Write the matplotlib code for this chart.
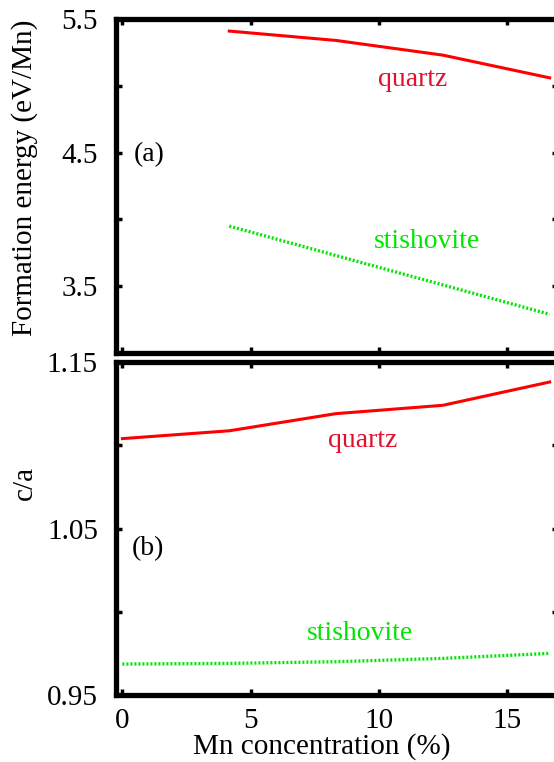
import matplotlib
matplotlib.use("Agg")
import matplotlib.pyplot as plt

# Mn concentration (%)
conc_energy = [4.17, 8.33, 12.5, 16.67]
conc_ratio = [0.0, 4.17, 8.33, 12.5, 16.67]

# formation energy (eV/Mn)
quartz_energy = [5.41, 5.34, 5.23, 5.06]
stishovite_energy = [3.95, 3.73, 3.51, 3.29]

# c/a ratio
quartz_ratio = [1.104, 1.1087, 1.119, 1.124, 1.138]
stishovite_ratio = [0.9686, 0.969, 0.970, 0.972, 0.975]

x_ticks = [0, 5, 10, 15]
energy_ticks = [3.0, 3.5, 4.0, 4.5, 5.0, 5.5]
energy_labels = ["", "3.5", "", "4.5", "", "5.5"]
ratio_ticks = [0.95, 1.00, 1.05, 1.10, 1.15]
ratio_labels = ["0.95", "", "1.05", "", "1.15"]

plt.rcParams['font.family'] = ['Liberation Serif', 'DejaVu Serif']
FS = 21      # tick and axis labels
FS_ANN = 20  # curve names and panel tags
RED = '#ff0000'
GREEN = '#00e600'


def style_axes(ax):
    for sp in ax.spines.values():
        sp.set_linewidth(3.8)
    ax.tick_params(direction='in', length=4, width=2.5, top=True, right=True,
                   labelsize=FS)
    ax.tick_params(axis='y', pad=13)
    ax.tick_params(axis='x', pad=9)
    ax.set_xlim(-0.25, 17.0)
    ax.set_xticks(x_ticks)


fig = plt.figure(figsize=(5.54, 7.62), dpi=100)
ax1 = fig.add_axes([0.2094, 0.5367, 0.798, 0.4383])
ax2 = fig.add_axes([0.2094, 0.0879, 0.798, 0.437])

# (a) formation energy
style_axes(ax1)
ax1.plot(conc_energy, quartz_energy, color=RED, lw=2.2)
ax1.plot(conc_energy, stishovite_energy, color=GREEN, lw=2.4, linestyle=(0, (0.6, 0.6)))
ax1.set_ylim(3.0, 5.5)
ax1.set_yticks(energy_ticks)
ax1.set_yticklabels(energy_labels)
ax1.set_xticklabels([])
ax1.text(11.32, 5.045, "quartz", color='#e0102e', fontsize=FS_ANN, ha='center', va='center')
ax1.text(11.9, 3.836, "stishovite", color=GREEN, fontsize=FS_ANN, ha='center', va='center')
ax1.text(1.06, 4.485, "(a)", fontsize=FS_ANN, ha='center', va='center')
ax1.text(-0.206, 0.525, "Formation energy (eV/Mn)", transform=ax1.transAxes,
         rotation=90, fontsize=FS, ha='center', va='center')

# (b) c/a
style_axes(ax2)
ax2.plot(conc_ratio, quartz_ratio, color=RED, lw=2.2)
ax2.plot(conc_ratio, stishovite_ratio, color=GREEN, lw=2.4, linestyle=(0, (0.6, 0.6)))
ax2.set_ylim(0.95, 1.15)
ax2.set_yticks(ratio_ticks)
ax2.set_yticklabels(ratio_labels)
ax2.text(9.38, 1.1027, "quartz", color='#e0102e', fontsize=FS_ANN, ha='center', va='center')
ax2.text(9.26, 0.9871, "stishovite", color=GREEN, fontsize=FS_ANN, ha='center', va='center')
ax2.text(0.98, 1.038, "(b)", fontsize=FS_ANN, ha='center', va='center')
ax2.text(-0.206, 0.637, "c/a", transform=ax2.transAxes,
         rotation=90, fontsize=FS, ha='center', va='center')
ax2.text(0.465, -0.156, "Mn concentration (%)", transform=ax2.transAxes,
         fontsize=FS, ha='center', va='center')

fig.savefig("out.png", dpi=100)
